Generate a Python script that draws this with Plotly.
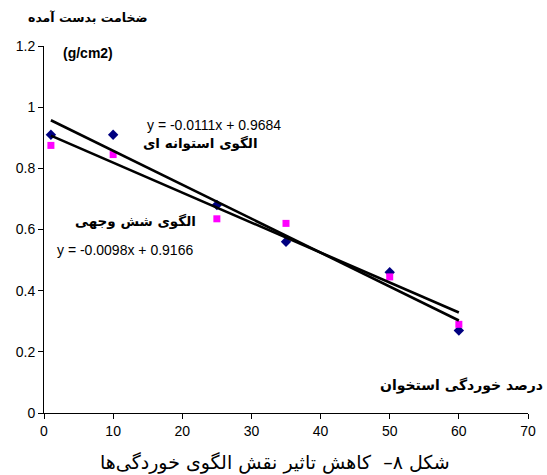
import plotly.graph_objects as go

# Bone corrosion percentage (x) and resulting thickness (g/cm2)
corrosion = [1, 10, 25, 35, 50, 60]
cylindrical = [0.91, 0.91, 0.68, 0.56, 0.46, 0.27]
hexagonal = [0.875, 0.845, 0.635, 0.62, 0.445, 0.29]

# Linear trendline coefficients (slope, intercept)
cyl_fit = (-0.0111, 0.9684)
hex_fit = (-0.0098, 0.9166)

x_ticks = [0, 10, 20, 30, 40, 50, 60, 70]
y_ticks = [0, 0.2, 0.4, 0.6, 0.8, 1.0, 1.2]

W, H = 547, 475
L, R, T, B = 44, 19, 46, 62
pw, ph = W - L - R, H - T - B


def px(xp):
    return (xp - L) / pw


def py(yp):
    return (H - B - yp) / ph


def fit_line(coef):
    xs = [min(corrosion), max(corrosion)]
    return xs, [coef[0] * v + coef[1] for v in xs]


fig = go.Figure()
fig.add_trace(go.Scatter(
    x=corrosion, y=cylindrical, mode="markers",
    marker=dict(symbol="diamond", size=8, color="#000080"),
    showlegend=False))
fig.add_trace(go.Scatter(
    x=corrosion, y=hexagonal, mode="markers",
    marker=dict(symbol="square", size=7, color="#FF00FF"),
    showlegend=False))

for coef in (cyl_fit, hex_fit):
    lx, ly = fit_line(coef)
    fig.add_trace(go.Scatter(
        x=lx, y=ly, mode="lines",
        line=dict(color="black", width=2.6),
        showlegend=False))


def eq_text(coef):
    return f"y = {coef[0]:.4f}x + {coef[1]:.4f}"


arfont = "DejaVu Sans"
lat = "Liberation Sans, Arial"
ann = [
    dict(text="<b>ضخامت بدست آمده</b>", x=px(88), y=py(18), xanchor="center",
         font=dict(family=arfont, size=12.5)),
    dict(text="<b>(g/cm2)</b>", x=px(88), y=py(53), xanchor="center",
         font=dict(family=lat, size=14)),
    dict(text=eq_text(cyl_fit), x=px(145), y=py(125), xanchor="left",
         font=dict(family=lat, size=14)),
    dict(text="<b>الگوی استوانه ای</b>", x=px(200), y=py(143), xanchor="center",
         font=dict(family=arfont, size=13.5)),
    dict(text="<b>الگوی شش وجهی</b>", x=px(135), y=py(221), xanchor="center",
         font=dict(family=arfont, size=13.5)),
    dict(text=eq_text(hex_fit), x=px(55), y=py(250), xanchor="left",
         font=dict(family=lat, size=14)),
    dict(text="<b>درصد خوردگی استخوان</b>", x=px(461), y=py(385), xanchor="center",
         font=dict(family=arfont, size=14)),
    dict(text="شکل ۸–  کاهش تاثیر نقش الگوی خوردگی‌ها", x=px(275), y=py(462),
         xanchor="center", font=dict(family=arfont, size=19)),
]
for a in ann:
    a.update(xref="paper", yref="paper", yanchor="middle", showarrow=False)
    a["font"]["color"] = "black"

axis_common = dict(
    showline=True, linecolor="black", linewidth=1,
    ticks="outside", ticklen=5, tickcolor="black", tickwidth=1,
    showgrid=False, zeroline=False,
    tickfont=dict(family=lat, size=14, color="black"),
)

fig.update_layout(
    width=W, height=H,
    margin=dict(l=L, r=R, t=T, b=B),
    paper_bgcolor="white", plot_bgcolor="white",
    xaxis=dict(range=[0, 70], tickvals=x_ticks, **axis_common),
    yaxis=dict(range=[0, 1.2], tickvals=y_ticks,
               ticktext=[f"{v:g}" for v in y_ticks], **axis_common),
    annotations=ann,
)

fig.write_html("out.html")
